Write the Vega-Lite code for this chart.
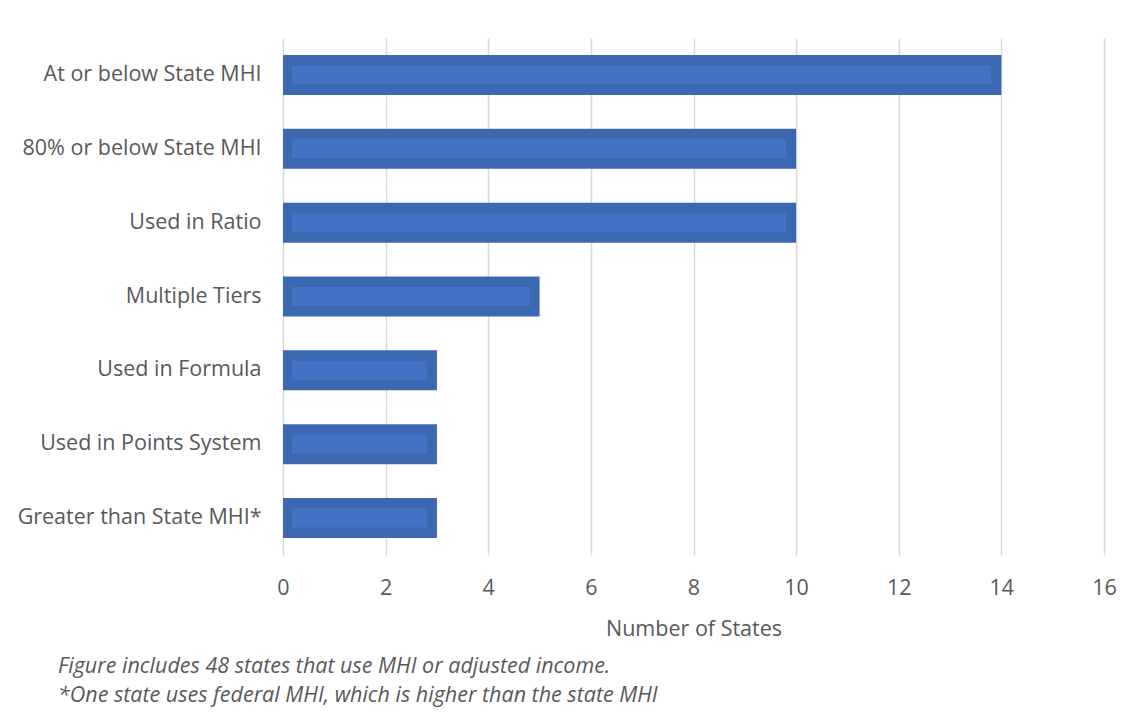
{
  "$schema": "https://vega.github.io/schema/vega-lite/v6.json",
  "autosize": {"type": "none"},
  "width": 821,
  "height": 517,
  "padding": {"left": 283, "top": 38, "right": 34, "bottom": 168},
  "background": "white",
  "data": {
    "values": [
      {"category": "At or below State MHI", "states": 14},
      {"category": "80% or below State MHI", "states": 10},
      {"category": "Used in Ratio", "states": 10},
      {"category": "Multiple Tiers", "states": 5},
      {"category": "Used in Formula", "states": 3},
      {"category": "Used in Points System", "states": 3},
      {"category": "Greater than State MHI*", "states": 3}
    ]
  },
  "title": {
    "text": ["Figure includes 48 states that use MHI or adjusted income.", "*One state uses federal MHI, which is higher than the state MHI"],
    "orient": "bottom",
    "anchor": "start",
    "frame": "group",
    "dx": -225,
    "offset": 16,
    "font": "Open Sans",
    "fontSize": 21.5,
    "fontStyle": "italic",
    "fontWeight": "normal",
    "color": "#595959",
    "lineHeight": 29
  },
  "encoding": {
    "y": {
      "field": "category",
      "type": "nominal",
      "sort": null,
      "title": null,
      "scale": {"paddingInner": 0.46, "paddingOuter": 0.23},
      "axis": {
        "domain": false,
        "ticks": false,
        "labelPadding": 22,
        "labelFont": "Open Sans",
        "labelFontSize": 21.5,
        "labelColor": "#595959",
        "labelLimit": 400
      }
    }
  },
  "layer": [
    {
      "mark": {"type": "bar", "color": "#3C67B1", "size": 40},
      "encoding": {
        "x": {
          "field": "states",
          "type": "quantitative",
          "scale": {"domain": [0, 16], "nice": false},
          "title": "Number of States",
          "axis": {
            "values": [0, 2, 4, 6, 8, 10, 12, 14, 16],
            "domain": false,
            "ticks": false,
            "grid": true,
            "gridColor": "#D9D9D9",
            "gridWidth": 1.5,
            "labelFlush": false,
            "labelPadding": 22,
            "labelFont": "Open Sans",
            "labelFontSize": 21.5,
            "labelColor": "#595959",
            "titleFont": "Open Sans",
            "titleFontSize": 21.5,
            "titleFontWeight": "normal",
            "titleColor": "#595959",
            "titlePadding": 20
          }
        },
        "x2": {"datum": 0}
      }
    },
    {
      "mark": {"type": "bar", "color": "#4473C5", "size": 19, "xOffset": -10, "x2Offset": 9},
      "encoding": {
        "x": {"field": "states", "type": "quantitative"},
        "x2": {"datum": 0}
      }
    }
  ],
  "config": {"view": {"stroke": null}}
}
